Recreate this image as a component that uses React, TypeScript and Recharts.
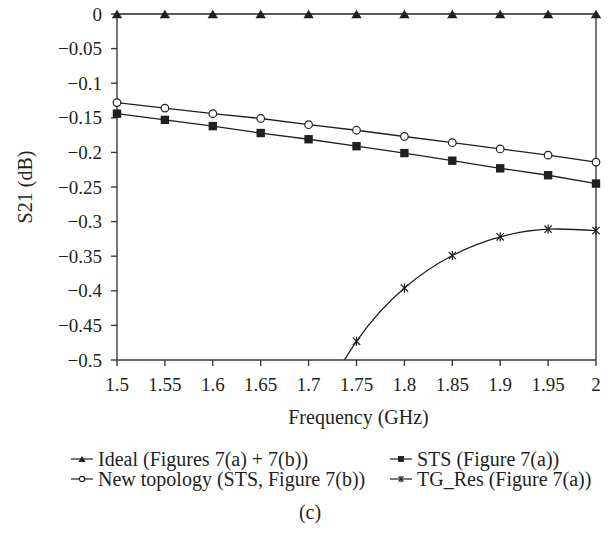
import { LineChart, Line, XAxis, YAxis, ReferenceLine, Legend } from "recharts";

const frequency = [1.5, 1.55, 1.6, 1.65, 1.7, 1.75, 1.8, 1.85, 1.9, 1.95, 2];
const ideal = [0, 0, 0, 0, 0, 0, 0, 0, 0, 0, 0];
const newTopology = [-0.128, -0.136, -0.144, -0.151, -0.16, -0.168, -0.177, -0.186, -0.195, -0.204, -0.214];
const sts = [-0.144, -0.153, -0.162, -0.172, -0.181, -0.191, -0.201, -0.212, -0.223, -0.233, -0.245];
// below -0.5 the curve leaves the plot; 1.7 is only estimated from the visible bend
const tgRes = [null, null, null, null, -0.59, -0.473, -0.396, -0.349, -0.322, -0.311, -0.313];
const yTicks = [0, -0.05, -0.1, -0.15, -0.2, -0.25, -0.3, -0.35, -0.4, -0.45, -0.5];
const seriesNames = [
  "Ideal (Figures 7(a) + 7(b))",
  "STS (Figure 7(a))",
  "New topology (STS, Figure 7(b))",
  "TG_Res (Figure 7(a))",
];

const data = frequency.map((f, i) => ({
  f,
  ideal: ideal[i],
  newTopology: newTopology[i],
  sts: sts[i],
  tgRes: tgRes[i],
}));

const INK = "#231f20";
const AXIS = "#3a3a3a";
const SERIF = "Liberation Serif";

type Mk = "triangle" | "square" | "circle" | "star";

function Marker({ kind, cx, cy, s = 1 }: { kind: Mk; cx: number; cy: number; s?: number }) {
  if (kind === "triangle") {
    const w = 5.2 * s;
    const h = 8.5 * s;
    return (
      <path
        d={`M${cx - w},${cy + h / 2} L${cx + w},${cy + h / 2} L${cx},${cy - h / 2} Z`}
        fill={INK}
      />
    );
  }
  if (kind === "square") {
    const h = 4.2 * s;
    return <rect x={cx - h} y={cy - h} width={h * 2} height={h * 2} fill={INK} />;
  }
  if (kind === "circle") {
    return <circle cx={cx} cy={cy} r={3.8 * s} fill="#fff" stroke={INK} strokeWidth={1.2} />;
  }
  const r = 4.6 * s;
  const d = r * 0.8;
  return (
    <g stroke={INK} strokeWidth={1.2}>
      <line x1={cx} y1={cy - r} x2={cx} y2={cy + r} />
      <line x1={cx - d} y1={cy - d} x2={cx + d} y2={cy + d} />
      <line x1={cx - d} y1={cy + d} x2={cx + d} y2={cy - d} />
    </g>
  );
}

const makeDot = (kind: Mk) => (props: any) => {
  const { cx, cy, index, value } = props;
  if (cx == null || cy == null || value == null || value < -0.5) {
    return <g key={`${kind}-${index}`} />;
  }
  return (
    <g key={`${kind}-${index}`}>
      <Marker kind={kind} cx={cx} cy={cy} />
    </g>
  );
};

const legendKinds: Mk[] = ["triangle", "square", "circle", "star"];

function LegendIcon({ kind }: { kind: Mk }) {
  return (
    <svg width={22} height={20} style={{ flex: "none" }}>
      <line x1={0} y1={10} x2={22} y2={10} stroke={INK} strokeWidth={1.2} />
      <Marker kind={kind} cx={11} cy={10} s={0.7} />
    </svg>
  );
}

function ChartLegend() {
  return (
    <div style={{ fontFamily: SERIF, fontSize: 20, color: INK, lineHeight: "20px" }}>
      <div
        style={{
          display: "grid",
          gridTemplateColumns: "319px auto",
          paddingLeft: 71,
        }}
      >
        {seriesNames.map((name, i) => (
          <div key={name} style={{ display: "flex", alignItems: "center", gap: 5, whiteSpace: "nowrap" }}>
            <LegendIcon kind={legendKinds[i]} />
            <span>{name}</span>
          </div>
        ))}
      </div>
      <div style={{ textAlign: "center", marginTop: 13, paddingLeft: 4 }}>(c)</div>
    </div>
  );
}

const fmtY = (v: number) => (v === 0 ? "0" : `\u2212${Math.abs(v)}`);

// custom tick so the serif face is set right on the text element
const SerifTick = (anchor: "middle" | "end", fmt: (v: number) => string) => (props: any) => {
  const { x, y, payload, index } = props;
  return (
    <text
      key={index}
      x={x}
      y={y}
      dy={anchor === "middle" ? "0.71em" : "0.35em"}
      textAnchor={anchor}
      fill={INK}
      fontSize={19}
      fontFamily={SERIF}
    >
      {fmt(payload.value)}
    </text>
  );
};

export default function App() {
  return (
    <div style={{ position: "absolute", left: 0, top: 0, width: 616, height: 543, background: "#fff", fontFamily: SERIF }}>
      <LineChart
        width={616}
        height={543}
        data={data}
        margin={{ top: 14, right: 20, bottom: 123, left: 47 }}
        style={{ fontFamily: SERIF }}
      >
        <XAxis
          dataKey="f"
          type="number"
          domain={[1.5, 2]}
          ticks={frequency}
          interval={0}
          stroke={AXIS}
          strokeWidth={1.4}
          tickSize={6}
          tickMargin={12}
          height={60}
          tick={SerifTick("middle", (v) => String(v))}
          label={(p: any) => {
            const vb = p.viewBox;
            return (
              <text
                x={vb.x + vb.width / 2 + 2}
                y={vb.y + 57}
                textAnchor="middle"
                dominantBaseline="central"
                fill={INK}
                fontSize={20}
                fontFamily={SERIF}
              >
                Frequency (GHz)
              </text>
            );
          }}
        />
        <YAxis
          type="number"
          domain={[-0.5, 0]}
          ticks={yTicks}
          interval={0}
          stroke={AXIS}
          strokeWidth={1.4}
          tickSize={6}
          tickMargin={9}
          width={70}
          tick={SerifTick("end", fmtY)}
          label={(p: any) => {
            const vb = p.viewBox;
            const cx = vb.x - 22;
            const cy = vb.y + vb.height / 2;
            return (
              <text
                x={cx}
                y={cy}
                transform={`rotate(-90 ${cx} ${cy})`}
                textAnchor="middle"
                dominantBaseline="central"
                fill={INK}
                fontSize={20}
                fontFamily={SERIF}
              >
                S21 (dB)
              </text>
            );
          }}
        />
        {/* hidden twin axis so only the TG_Res curve is clipped at -0.5 */}
        <YAxis yAxisId="tg" type="number" domain={[-0.5, 0]} allowDataOverflow hide />
        <ReferenceLine x={2} stroke={AXIS} strokeWidth={1.4} />
        <Legend
          layout="horizontal"
          verticalAlign="middle"
          align="center"
          wrapperStyle={{ left: 0, top: 449, width: 616 }}
          content={() => <ChartLegend />}
        />
        <Line
          type="linear"
          dataKey="newTopology"
          stroke={INK}
          strokeWidth={1.3}
          dot={makeDot("circle")}
          activeDot={false}
          isAnimationActive={false}
        />
        <Line
          type="linear"
          dataKey="sts"
          stroke={INK}
          strokeWidth={1.3}
          dot={makeDot("square")}
          activeDot={false}
          isAnimationActive={false}
        />
        <Line
          yAxisId="tg"
          type="natural"
          dataKey="tgRes"
          stroke={INK}
          strokeWidth={1.3}
          dot={makeDot("star")}
          activeDot={false}
          isAnimationActive={false}
        />
        <Line
          type="linear"
          dataKey="ideal"
          stroke={INK}
          strokeWidth={1.3}
          dot={makeDot("triangle")}
          activeDot={false}
          isAnimationActive={false}
        />
      </LineChart>
    </div>
  );
}
